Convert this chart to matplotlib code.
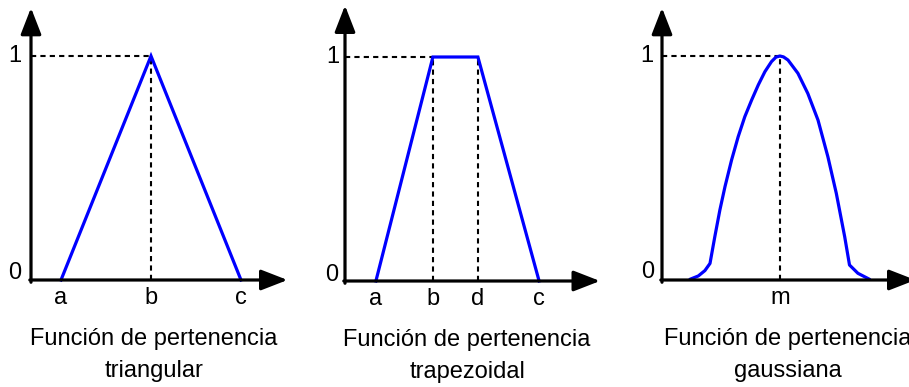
import matplotlib
matplotlib.use("Agg")
import matplotlib.pyplot as plt

plt.rcParams['font.family'] = ['Liberation Sans', 'DejaVu Sans']

# ---- data ----
tri_labels = ['a', 'b', 'c']
tri_x = [1.0, 4.0, 7.0]
tri_y = [0.0, 1.0, 0.0]

trap_labels = ['a', 'b', 'd', 'c']
trap_x = [1.03, 2.93, 4.43, 6.47]
trap_y = [0.0, 1.0, 1.0, 0.0]

gauss_label = 'm'
gauss_m = 3.93
gauss_x = [0.93, 1.21, 1.43, 1.60, 1.76, 1.93, 2.10, 2.32, 2.54, 2.76, 2.99, 3.21,
           3.43, 3.65, 3.80, 3.93, 4.05, 4.20, 4.53, 4.86, 5.20, 5.53, 5.81, 6.09,
           6.25, 6.53, 6.92]
gauss_y = [0.003, 0.018, 0.042, 0.074, 0.193, 0.313, 0.417, 0.536, 0.640, 0.729, 0.804, 0.871,
           0.930, 0.975, 0.995, 1.0, 0.996, 0.982, 0.923, 0.833, 0.714, 0.550, 0.387, 0.193,
           0.067, 0.030, 0.003]

titles = [['Función de pertenencia', 'triangular'],
          ['Función de pertenencia', 'trapezoidal'],
          ['Función de pertenencia', 'gaussiana']]

W, H = 909, 387
PX_X, PX_Y = 30.0, 224.0
X0, X1, Y0, Y1 = -1.0, 8.8, -0.48, 1.25

fig = plt.figure(figsize=(W / 100, H / 100), dpi=100)

BLUE = '#0000ff'
FS = 17


def make_panel(ox, oy):
    left = (ox + X0 * PX_X) / W
    bottom = (H - oy + Y0 * PX_Y) / H
    ax = fig.add_axes([left, bottom, (X1 - X0) * PX_X / W, (Y1 - Y0) * PX_Y / H])
    ax.set_xlim(X0, X1)
    ax.set_ylim(Y0, Y1)
    ax.axis('off')
    return ax


def axes_arrows(ax, xtip, ytip):
    kw = dict(arrowstyle='-|>,head_length=0.9,head_width=0.35', lw=2.3, color='black',
              mutation_scale=18, shrinkA=0, shrinkB=0)
    ax.annotate('', xy=(xtip, 0), xytext=(-0.04, 0), arrowprops=kw, annotation_clip=False)
    ax.annotate('', xy=(0, ytip), xytext=(0, -0.01), arrowprops=kw, annotation_clip=False)


def dashed(ax, xs, ys):
    ax.plot(xs, ys, color='black', lw=1.5, ls=(0, (2.5, 2.0)), zorder=2, clip_on=False)


def title(ax, cx, lines):
    ax.text(cx, -0.265, lines[0], ha='center', va='center', fontsize=FS, clip_on=False)
    ax.text(cx, -0.405, lines[1], ha='center', va='center', fontsize=FS, clip_on=False)


# Panel 1: triangular
ax1 = make_panel(31, 280)
dashed(ax1, [0, tri_x[1]], [1, 1])
dashed(ax1, [tri_x[1], tri_x[1]], [0, 1])
ax1.plot(tri_x, tri_y, color=BLUE, lw=2.3, zorder=3, solid_joinstyle='miter')
axes_arrows(ax1, 8.55, 1.215)
ax1.text(-0.53, 1.0, '1', ha='center', va='center', fontsize=FS)
ax1.text(-0.53, 0.03, '0', ha='center', va='center', fontsize=FS)
for xv, lab in zip(tri_x, tri_labels):
    ax1.text(xv, -0.08, lab, ha='center', va='center', fontsize=FS)
title(ax1, 4.1, titles[0])

# Panel 2: trapezoidal
ax2 = make_panel(345, 281)
dashed(ax2, [0, trap_x[1]], [1, 1])
dashed(ax2, [trap_x[1], trap_x[1]], [0, 1])
dashed(ax2, [trap_x[2], trap_x[2]], [0, 1])
ax2.plot(trap_x, trap_y, color=BLUE, lw=2.3, zorder=3, solid_joinstyle='miter')
axes_arrows(ax2, 8.5, 1.23)
ax2.text(-0.4, 1.0, '1', ha='center', va='center', fontsize=FS)
ax2.text(-0.43, 0.027, '0', ha='center', va='center', fontsize=FS)
for xv, lab in zip(trap_x, trap_labels):
    ax2.text(xv, -0.08, lab, ha='center', va='center', fontsize=FS)
title(ax2, 4.07, titles[1])

# Panel 3: gaussian
ax3 = make_panel(662, 280)
dashed(ax3, [0, gauss_m], [1, 1])
dashed(ax3, [gauss_m, gauss_m], [0, 1])
ax3.plot(gauss_x, gauss_y, color=BLUE, lw=2.3, zorder=3, solid_capstyle='round',
         solid_joinstyle='round')
axes_arrows(ax3, 8.45, 1.215)
ax3.text(-0.5, 1.0, '1', ha='center', va='center', fontsize=FS)
ax3.text(-0.47, 0.036, '0', ha='center', va='center', fontsize=FS)
ax3.text(gauss_m, -0.08, gauss_label, ha='center', va='center', fontsize=FS)
title(ax3, 4.2, titles[2])

fig.savefig('out.png', dpi=100, facecolor='white')
